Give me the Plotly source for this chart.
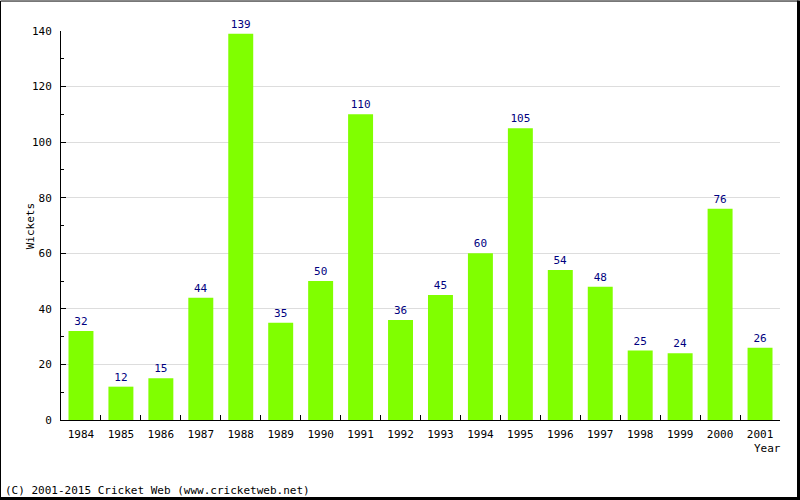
import plotly.graph_objects as go

years = ["1984","1985","1986","1987","1988","1989","1990","1991","1992","1993",
         "1994","1995","1996","1997","1998","1999","2000","2001"]
wickets = [32,12,15,44,139,35,50,110,36,45,60,105,54,48,25,24,76,26]

FONT = "DejaVu Sans Mono"
L, R, T, B = 61, 20, 30.5, 80
W, H = 800, 500
pw, ph = W - L - R, H - T - B

def px(x):
    return (x - L) / pw

def py(y):
    return (H - B - y) / ph

fig = go.Figure(go.Bar(
    x=years, y=wickets,
    marker=dict(color="#80FF00", line=dict(width=0)),
    text=[str(v) for v in wickets],
    textposition="outside",
    textfont=dict(family=FONT, size=11, color="#000080"),
    cliponaxis=False,
))

fig.update_layout(
    width=W, height=H,
    margin=dict(l=L, r=R, t=T, b=B),
    paper_bgcolor="white", plot_bgcolor="white",
    bargap=0.375,
    showlegend=False,
    font=dict(family=FONT, size=11, color="black"),
    xaxis=dict(
        type="category",
        showline=True, linecolor="black", linewidth=1,
        ticks="inside", tickson="boundaries", ticklen=5, tickcolor="black",
        showgrid=False,
        tickfont=dict(family=FONT, size=11, color="black"),
        ticklabelstandoff=4,
    ),
    yaxis=dict(
        range=[0, 140],
        tickvals=[0, 20, 40, 60, 80, 100, 120, 140],
        showline=True, linecolor="black", linewidth=1,
        ticks="inside", ticklen=5, tickcolor="black",
        showgrid=True, gridcolor="#DDDDDD", gridwidth=1,
        zeroline=False,
        minor=dict(tickvals=[10, 30, 50, 70, 90, 110, 130], ticks="inside",
                   ticklen=3, tickcolor="black", showgrid=False),
        tickfont=dict(family=FONT, size=11, color="black"),
        ticklabelstandoff=6,
    ),
)

fig.add_annotation(text="Wickets", textangle=-90, xref="paper", yref="paper",
                   x=px(30), y=py(226), xanchor="center", yanchor="middle",
                   showarrow=False,
                   font=dict(family=FONT, size=11, color="black"))
fig.add_annotation(text="Year", xref="paper", yref="paper",
                   x=px(767), y=py(449), xanchor="center", yanchor="middle",
                   showarrow=False,
                   font=dict(family=FONT, size=11, color="black"))
fig.add_annotation(text="(C) 2001-2015 Cricket Web (www.cricketweb.net)",
                   xref="paper", yref="paper", x=px(3), y=py(491),
                   xanchor="left", yanchor="middle", showarrow=False,
                   font=dict(family=FONT, size=11, color="black"))

# outer frame
fig.add_shape(type="rect", xref="paper", yref="paper",
              x0=px(0.5), x1=px(798.5), y0=py(0.5), y1=py(498.5),
              line=dict(color="black", width=1), layer="above")
fig.add_shape(type="line", xref="paper", yref="paper",
              x0=px(798.5), x1=px(798.5), y0=py(0), y1=py(500),
              line=dict(color="black", width=3))
fig.add_shape(type="line", xref="paper", yref="paper",
              x0=px(0), x1=px(800), y0=py(498.5), y1=py(498.5),
              line=dict(color="black", width=3))

fig.write_html("out.html", config={"displayModeBar": False},
               post_script="document.body.style.margin='0';document.body.style.overflow='hidden';")
